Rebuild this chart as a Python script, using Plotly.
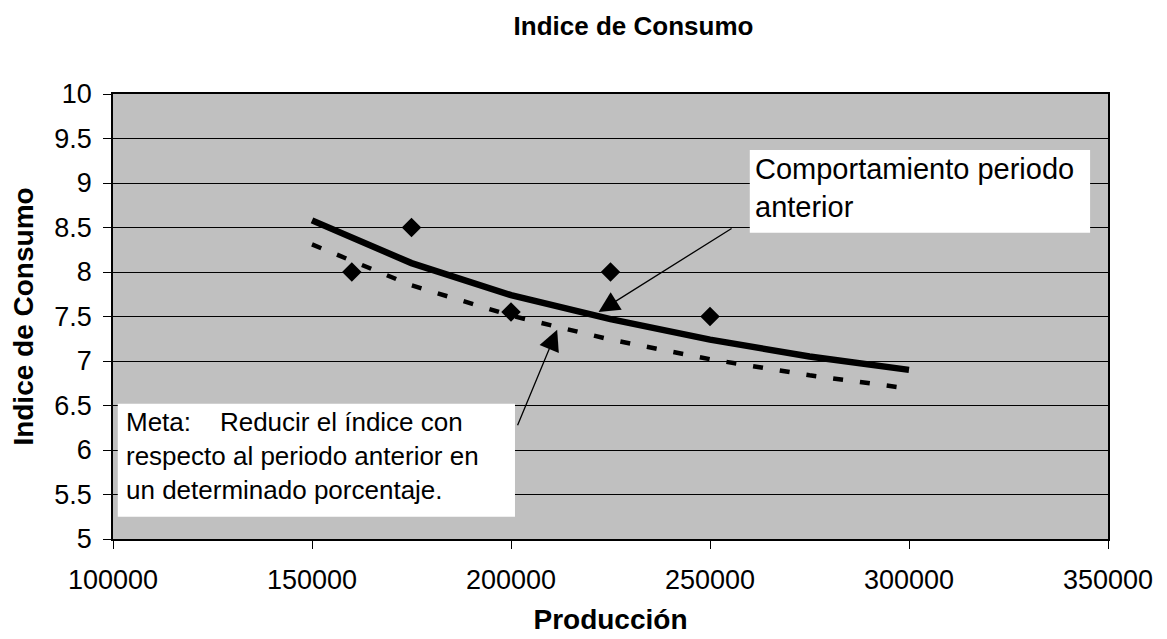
import plotly.graph_objects as go

# observed points (diamonds)
prod_puntos = [160000, 175000, 200000, 225000, 250000]
indice_puntos = [8.0, 8.5, 7.55, 8.0, 7.5]

# trend of the previous period (solid) and goal (dashed)
prod_linea = [150000, 175000, 200000, 225000, 250000, 275000, 300000]
indice_anterior = [8.58, 8.10, 7.74, 7.47, 7.24, 7.05, 6.90]
indice_meta = [8.31, 7.85, 7.51, 7.24, 7.02, 6.84, 6.69]

x_ticks = [100000, 150000, 200000, 250000, 300000, 350000]
y_ticks = [5, 5.5, 6, 6.5, 7, 7.5, 8, 8.5, 9, 9.5, 10]

FONT = "Liberation Sans, Arial, sans-serif"

fig = go.Figure()

fig.add_trace(go.Scatter(
    x=prod_linea, y=indice_meta, mode="lines",
    line=dict(color="black", width=4.5, dash="10px,17px"),
    name="Meta"))
fig.add_trace(go.Scatter(
    x=prod_linea, y=indice_anterior, mode="lines",
    line=dict(color="black", width=6.5),
    name="Periodo anterior"))
fig.add_trace(go.Scatter(
    x=prod_puntos, y=indice_puntos, mode="markers",
    marker=dict(symbol="diamond", size=15, color="black"),
    name="Datos"))

# white text boxes
fig.add_shape(type="rect", xref="x", yref="y", x0=260000, x1=345500, y0=8.44, y1=9.37,
              fillcolor="white", line=dict(width=0), layer="above")
fig.add_shape(type="rect", xref="x", yref="y", x0=101200, x1=201000, y0=5.25, y1=6.52,
              fillcolor="white", line=dict(width=0), layer="above")

fig.add_annotation(x=260700, y=9.36, xref="x", yref="y", xanchor="left", yanchor="top",
                   align="left", showarrow=False,
                   text="Comportamiento periodo<br>anterior",
                   font=dict(family=FONT, size=29, color="black"))
fig.add_annotation(x=102800, y=6.51, xref="x", yref="y", xanchor="left", yanchor="top",
                   align="left", showarrow=False,
                   text="Meta:\u00a0\u00a0\u00a0\u00a0Reducir el índice con<br>respecto al periodo anterior en<br>un determinado porcentaje.",
                   font=dict(family=FONT, size=26, color="black"))

# arrows
fig.add_annotation(x=222000, y=7.55, ax=255800, ay=8.50, xref="x", yref="y",
                   axref="x", ayref="y", text="", showarrow=True,
                   arrowhead=2, arrowsize=3.2, arrowwidth=1.3, arrowcolor="black")
fig.add_annotation(x=211600, y=7.35, ax=201500, ay=6.26, xref="x", yref="y",
                   axref="x", ayref="y", text="", showarrow=True,
                   arrowhead=2, arrowsize=3.2, arrowwidth=1.3, arrowcolor="black")

# page body keeps an 8px margin, so the margins are shifted by 8px
fig.update_layout(
    width=1167, height=639,
    margin=dict(l=105, r=67, t=86, b=108, autoexpand=False),
    paper_bgcolor="white", plot_bgcolor="#c0c0c0",
    showlegend=False,
    font=dict(family=FONT, size=27, color="black"),
    title=dict(text="<b>Indice de Consumo</b>", x=0.536, xanchor="center",
               y=0.972, yanchor="middle",
               font=dict(family=FONT, size=26, color="black")),
    xaxis=dict(
        range=[100000, 350000], tickvals=x_ticks, ticktext=[str(v) for v in x_ticks],
        showgrid=False, zeroline=False,
        showline=True, linecolor="black", linewidth=1.5, mirror=True,
        ticks="outside", ticklen=8, tickcolor="black", ticklabelstandoff=8,
        tickfont=dict(size=27), automargin=False,
        title=dict(text="<b>Producción</b>", font=dict(size=28), standoff=15),
    ),
    yaxis=dict(
        range=[5, 10], tickvals=y_ticks, ticktext=[f"{v:g}" for v in y_ticks],
        showgrid=True, gridcolor="black", gridwidth=1, zeroline=False,
        showline=True, linecolor="black", linewidth=1.5, mirror=True,
        ticks="outside", ticklen=8, tickcolor="black", ticklabelstandoff=6,
        tickfont=dict(size=27), automargin=False,
        title=dict(text="<b>Indice de Consumo</b>", font=dict(size=28), standoff=14),
    ),
)

fig.write_html("out.html")
